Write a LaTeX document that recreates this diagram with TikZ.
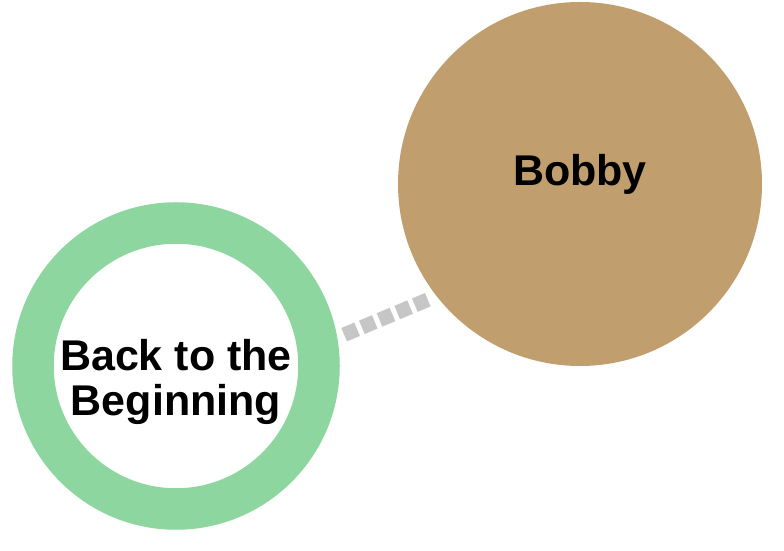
\documentclass[tikz,border=0pt]{standalone}
\usepackage{fontspec}
\setmainfont{Liberation Sans}
\usepackage{xcolor}
\definecolor{mint}{HTML}{8ED69F}
\definecolor{sand}{HTML}{C19E6E}
\definecolor{ash}{HTML}{C6C6C6}
\usetikzlibrary{positioning}
\tikzset{
  ring/.style ={circle,draw=mint,line width=41.5pt,fill=white,
                minimum size=286pt,inner sep=0pt,outer sep=auto},
  disc/.style ={circle,fill=sand,minimum size=364pt,inner sep=0pt,outer sep=0pt},
  lbl/.style  ={font=\fontsize{43}{45}\selectfont\bfseries,align=center,text=black},
  link/.style ={draw=ash,line width=14.5pt,dash pattern=on 14pt off 5.15pt,
                shorten <=7.5pt,shorten >=9.4pt},
}

\begin{document}
\begin{tikzpicture}[x=1pt,y=1pt]
\useasboundingbox[fill=white] (0,0) rectangle (784,551);
% ---- circles
\node[ring] (begin) at (176,185) {};
\node[disc] (bobby) at (580,367) {};
% ---- labels
\node[lbl,anchor=center] (begintxt) at ([yshift=-16pt]begin.center) {Back to the\\Beginning};
\node[lbl,anchor=center] (bobbytxt) at ([yshift=10pt]bobby.center) {Bobby};
% ---- link
\draw[link] (begin.10) -- (bobby.218);
\end{tikzpicture}
\end{document}
